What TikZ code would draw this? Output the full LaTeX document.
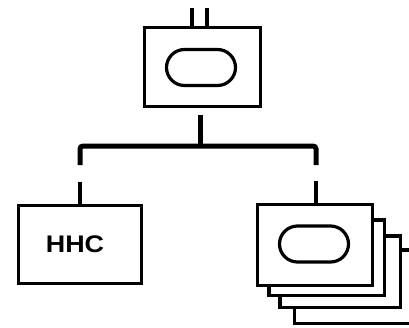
\documentclass[tikz,border=0pt]{standalone}
\usepackage{fontspec}
\setsansfont{Liberation Sans}
\usetikzlibrary{calc, positioning, shapes.misc}

\tikzset{
	card/.style={draw, fill=white, line width=3.5pt, minimum width=115pt, minimum height=80pt, inner sep=0pt},
	crest/.style={draw, rounded rectangle, line width=3.2pt, minimum width=69pt, minimum height=36pt, inner sep=0pt},
	wire/.style={line width=5pt, rounded corners=3pt},
}

\begin{document}
\begin{tikzpicture}[x=1pt, y=-1pt]
		\useasboundingbox (0,0) rectangle (409,327);
		\clip (0,0) rectangle (409,327);
		
		\def\busY{146};
		
		% headquarters
		\node [card, minimum width=116pt, minimum height=79pt] (top) at (202.5,67) {};
		\node [crest] (topcrest) at (201,67.5) {};
		\coordinate (stubA) at (192,8);
		\coordinate (stubB) at (207,8);
		\draw [line width=4pt] (stubA) -- (stubA |- top.north);
		\draw [line width=4pt] (stubB) -- (stubB |- top.north);
		
		% companies
		\node [card, minimum width=123pt, minimum height=78pt] (hhc) at (80,244.5) {};
		\node [font=\sffamily\bfseries\fontsize{24}{24}\selectfont, xscale=1.12] (hhclabel) at (75,244.5) {HHC};
		
		\foreach \i/\cx/\cy/\w/\h in {3/355/286.5/121/73.5, 2/340/271.5/120.5/71.5, 1/326.5/257.5/115.5/75.5}
			\node [card, minimum width=\w pt, minimum height=\h pt] (unit\i) at (\cx,\cy) {};
		\node [card, minimum width=115pt, minimum height=81pt] (unit0) at (315,245) {};
		\node [crest] (unitcrest) at (314,244) {};
		
		% lines
		\coordinate (stem) at ($(top.south)+(-2,7)$);
		\coordinate (busL) at (80,\busY);
		\coordinate (busR) at (316,\busY);
		\coordinate (dropL) at (80,165);
		\coordinate (dropR) at (316,165);
		\draw [wire] (stem) -- (stem |- busL);
		\draw [wire] (dropL) -- (busL) -- (busR) -- (dropR);
		\draw [line width=4.5pt] ($(hhc.north)+(0,-22)$) -- (hhc.north);
		\draw [line width=4.5pt] ($(unit0.north)+(1,-22)$) -- (unit0.north -| dropR);
	\end{tikzpicture}
\end{document}
